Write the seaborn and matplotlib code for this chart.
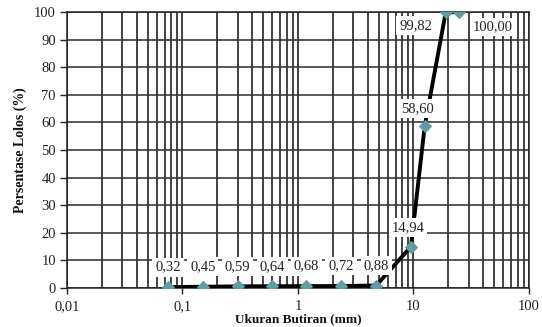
import matplotlib
matplotlib.use("Agg")
import matplotlib.pyplot as plt
from matplotlib.ticker import FixedLocator, FixedFormatter, LogLocator, NullFormatter
import seaborn as sns
import pandas as pd

# Sieve analysis: grain size (mm) vs. cumulative percent passing
sieve_mm = [0.075, 0.15, 0.3, 0.6, 1.18, 2.36, 4.75, 9.5, 12.5, 19.0, 25.0]
pct_passing = [0.32, 0.45, 0.59, 0.64, 0.68, 0.72, 0.88, 14.94, 58.60, 99.82, 100.00]

x_ticks = [0.01, 0.1, 1, 10, 100]
x_tick_labels = ["0,01", "0,1", "1", "10", "100"]
y_ticks = list(range(0, 101, 10))

df = pd.DataFrame({"size": sieve_mm, "passing": pct_passing})

sns.set_style("white")
plt.rcParams["font.family"] = ["Liberation Serif", "DejaVu Serif"]

fig = plt.figure(figsize=(5.42, 3.27), dpi=100)
ax = fig.add_axes([0.1236, 0.1193, 0.8524, 0.844])

ax.set_xscale("log")
ax.set_xlim(0.01, 100)
ax.set_ylim(0, 100)

# grid: every decade subdivision vertically, every 10 % horizontally
ax.xaxis.set_major_locator(FixedLocator(x_ticks))
ax.xaxis.set_major_formatter(FixedFormatter(x_tick_labels))
ax.xaxis.set_minor_locator(LogLocator(base=10, subs=range(2, 10)))
ax.xaxis.set_minor_formatter(NullFormatter())
ax.set_yticks(y_ticks)
ax.grid(True, which="both", axis="x", color="#1a1a1a", linewidth=1.15, zorder=0)
ax.grid(True, which="major", axis="y", color="#333333", linewidth=1.15, zorder=0)
ax.set_axisbelow(True)

sns.lineplot(data=df, x="size", y="passing", ax=ax, color="black", linewidth=2.8,
             marker="D", markersize=6.5, markerfacecolor="#5e9ea0",
             markeredgecolor="#5e9ea0", zorder=4)

# value labels with white boxes
offsets_px = [(0, 20)] * 7 + [(-3, 19), (-7, 18), (-30, -13), (33, -15)]
for xv, yv, (dx, dy) in zip(sieve_mm, pct_passing, offsets_px):
    ax.annotate(f"{yv:.2f}".replace(".", ","), (xv, yv),
                xytext=(dx * 0.72, dy * 0.72), textcoords="offset points",
                ha="center", va="center", fontsize=10.5, color="#222222",
                bbox=dict(boxstyle="square,pad=0.2", fc="white", ec="none"),
                zorder=5)

for s in ax.spines.values():
    s.set_color("#222222")
    s.set_linewidth(1.1)

ax.tick_params(axis="y", which="major", direction="out", length=5, width=1,
               pad=3, labelsize=10.5, colors="#222222", left=True)
ax.tick_params(axis="x", which="major", direction="out", length=4, width=1,
               pad=5, labelsize=10.5, colors="#222222", bottom=True)
ax.tick_params(axis="x", which="minor", length=0)

ax.set_xlabel("Ukuran Butiran (mm)", fontsize=9.5, fontweight="bold", labelpad=0,
              color="#111111")
ax.set_ylabel("Persentase Lolos (%)", fontsize=10, fontweight="bold", labelpad=5,
              color="#111111")

fig.savefig("out.png", dpi=100)
